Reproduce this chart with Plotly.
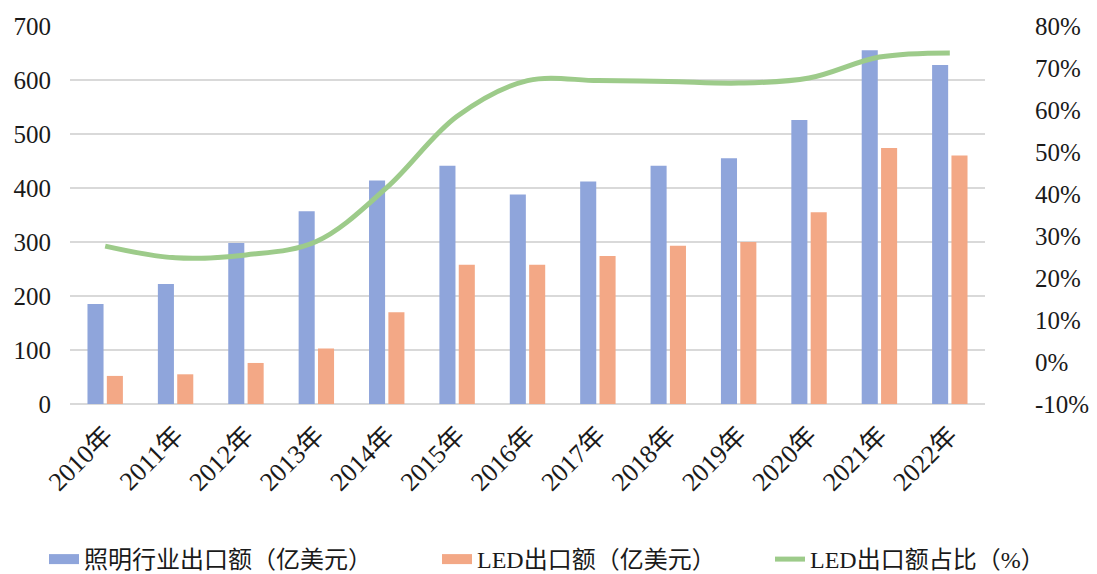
import plotly.graph_objects as go

years = ["2010年", "2011年", "2012年", "2013年", "2014年", "2015年", "2016年",
         "2017年", "2018年", "2019年", "2020年", "2021年", "2022年"]
lighting_export = [185, 222, 298, 357, 414, 441, 388, 412, 441, 455, 526, 655, 628]
led_export = [52, 55, 76, 103, 170, 258, 258, 274, 293, 300, 355, 474, 460]
led_share = [27.6, 24.8, 25.5, 28.7, 41.5, 58.5, 67.0, 67.0, 66.8, 66.4, 67.6, 72.6, 73.6]

names = ["照明行业出口额（亿美元）", "LED出口额（亿美元）", "LED出口额占比（%）"]
colors = ["#8FA5DB", "#F3A886", "#9DCB8A"]
share_ticks = [-10, 0, 10, 20, 30, 40, 50, 60, 70, 80]
share_ticktext = [f"{v}%" for v in share_ticks]

FONT = "Liberation Serif, Times New Roman, Noto Sans CJK SC, serif"

# page body has an 8px default margin, so the figure is sized to fit inside
W, H = 1089, 566

fig = go.Figure()
fig.add_trace(go.Bar(x=years, y=lighting_export, name=names[0], showlegend=False,
                     legendgroup="a", marker=dict(color=colors[0], line=dict(width=0))))
fig.add_trace(go.Bar(x=years, y=led_export, name=names[1], showlegend=False,
                     legendgroup="b", marker=dict(color=colors[1], line=dict(width=0))))
fig.add_trace(go.Scatter(x=years, y=led_share, name=names[2], yaxis="y2",
                         mode="lines", legend="legend3",
                         line=dict(color=colors[2], width=5, shape="spline", smoothing=1.0)))
# legend keys styled like the wide rectangular swatches of the reference
fig.add_trace(go.Scatter(x=[None], y=[None], mode="lines", name=names[0],
                         legendgroup="a", legend="legend",
                         line=dict(color=colors[0], width=12)))
fig.add_trace(go.Scatter(x=[None], y=[None], mode="lines", name=names[1],
                         legendgroup="b", legend="legend2",
                         line=dict(color=colors[1], width=12)))

leg_common = dict(orientation="h", xref="container", yref="container",
                  y=(H - 529) / H, yanchor="top", xanchor="left",
                  font=dict(family=FONT, size=24), bgcolor="rgba(0,0,0,0)")

fig.update_layout(
    width=W, height=H,
    margin=dict(l=62, r=112, t=18, b=170, autoexpand=False),
    paper_bgcolor="white", plot_bgcolor="white",
    font=dict(family=FONT, size=25, color="#1a1a1a"),
    barmode="group", bargap=0.45, bargroupgap=0.17,
    showlegend=True,
    legend=dict(x=36 / W, **leg_common),
    legend2=dict(x=429 / W, **leg_common),
    legend3=dict(x=762 / W, **leg_common),
    xaxis=dict(tickangle=-45, showgrid=False, showline=False, ticks="",
               automargin=False, ticklabelstandoff=10,
               tickfont=dict(family=FONT, size=26)),
    yaxis=dict(range=[0, 700], dtick=100, showgrid=True, gridcolor="#D9D9D9",
               gridwidth=1.5, zeroline=True, zerolinecolor="#D9D9D9",
               zerolinewidth=1.5, ticks="", ticklabelstandoff=18, automargin=False,
               tickfont=dict(family=FONT, size=25)),
    yaxis2=dict(range=[-10, 80], tickvals=share_ticks, ticktext=share_ticktext,
                overlaying="y", side="right", showgrid=False, zeroline=False,
                automargin=False, ticks="", ticklabelstandoff=49,
                tickfont=dict(family=FONT, size=25)),
)

fig.write_html("out.html")
